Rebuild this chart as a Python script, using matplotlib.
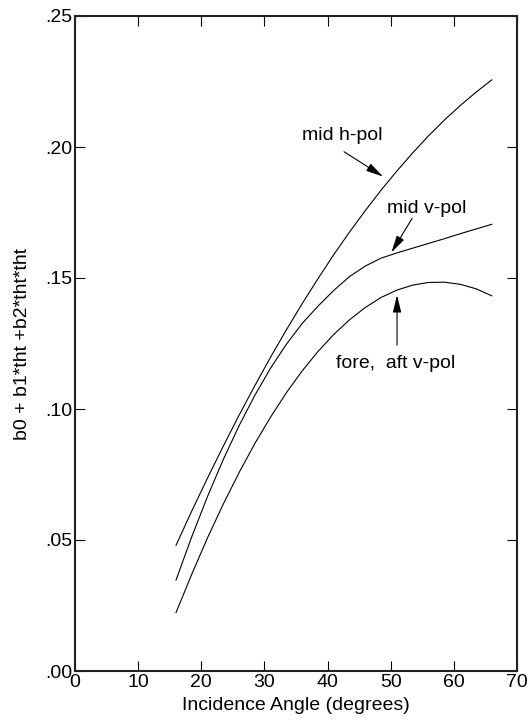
import numpy as np
import matplotlib
matplotlib.use('Agg')
import matplotlib.pyplot as plt

plt.rcParams['font.family'] = ['Liberation Sans', 'DejaVu Sans']

# values (every 2.5 degrees)
tht = [16, 18.5, 21, 23.5, 26, 28.5, 31, 33.5, 36, 38.5, 41,
       43.5, 46, 48.5, 51, 53.5, 56, 58.5, 61, 63.5, 66]
mid_h_pol = [0.0480, 0.0611, 0.0737, 0.0859, 0.0977, 0.1090, 0.1199, 0.1303, 0.1403, 0.1498, 0.1590,
             0.1676, 0.1758, 0.1836, 0.1909, 0.1978, 0.2043, 0.2103, 0.2158, 0.2209, 0.2256]
mid_v_pol = [0.0347, 0.0513, 0.0667, 0.0808, 0.0937, 0.1053, 0.1157, 0.1248, 0.1327, 0.1393, 0.1453,
             0.1506, 0.1546, 0.1576, 0.1596, 0.1614, 0.1632, 0.1650, 0.1669, 0.1687, 0.1705]
fore_aft_v_pol = [0.0223, 0.0370, 0.0509, 0.0638, 0.0758, 0.0869, 0.0970, 0.1063, 0.1146, 0.1220, 0.1285,
                  0.1341, 0.1388, 0.1426, 0.1454, 0.1473, 0.1483, 0.1484, 0.1476, 0.1459, 0.1432]

xticks = [0, 10, 20, 30, 40, 50, 60, 70]
yticks = [0.00, 0.05, 0.10, 0.15, 0.20, 0.25]
ytick_labels = ['.00', '.05', '.10', '.15', '.20', '.25']

fig = plt.figure(figsize=(5.32, 7.26), dpi=100)
ax = fig.add_axes([75/532, 55/726, 442/532, 655/726])

ax.plot(tht, mid_h_pol, color='black', lw=0.8)
ax.plot(tht, mid_v_pol, color='black', lw=0.8)
ax.plot(tht, fore_aft_v_pol, color='black', lw=0.8)

arrow = dict(arrowstyle='-|>,head_length=0.7,head_width=0.17', color='black',
             lw=0.8, mutation_scale=15, shrinkA=0, shrinkB=0)

ax.text(36.0, 0.2042, 'mid h-pol', fontsize=14, ha='left', va='center')
ax.annotate('', xy=(48.8, 0.1887), xytext=(42.6, 0.1982), arrowprops=arrow)

ax.text(49.4, 0.1767, 'mid v-pol', fontsize=14, ha='left', va='center')
ax.annotate('', xy=(50.1, 0.1597), xytext=(53.4, 0.1728), arrowprops=arrow)

ax.text(41.3, 0.1172, 'fore,  aft v-pol', fontsize=14, ha='left', va='center')
ax.annotate('', xy=(51.0, 0.1435), xytext=(51.0, 0.1244), arrowprops=arrow)

ax.set_xlim(0, 70)
ax.set_ylim(0, 0.25)
ax.set_xticks(xticks)
ax.set_yticks(yticks)
ax.set_yticklabels(ytick_labels)
ax.tick_params(direction='in', length=7, width=0.8, top=True, right=True,
               labelsize=14, pad=2)
for s in ax.spines.values():
    s.set_linewidth(1.5)
    s.set_color('#222222')

ax.set_xlabel('Incidence Angle (degrees)', fontsize=14)
ax.set_ylabel('b0 + b1*tht +b2*tht*tht', fontsize=14)
ax.xaxis.set_label_coords(0.5, -0.040)
ax.yaxis.set_label_coords(-0.10, 0.5)

fig.savefig('out.png', dpi=100)
